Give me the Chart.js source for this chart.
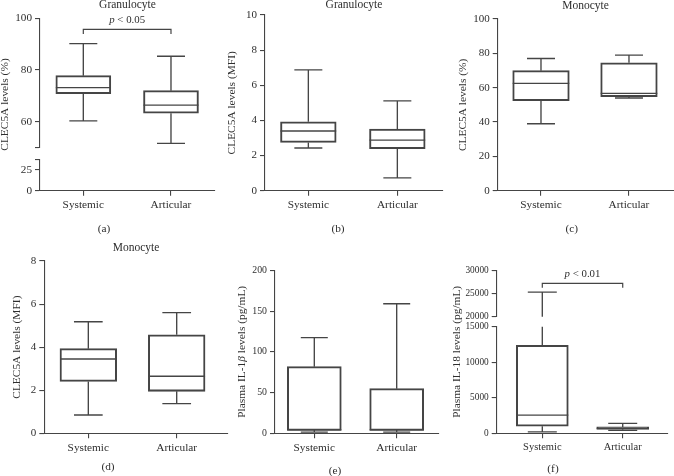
<!DOCTYPE html>
<html><head><meta charset="utf-8">
<script src="https://cdn.jsdelivr.net/npm/chart.js@4.4.1/dist/chart.umd.min.js"></script>
<style>
html,body{margin:0;padding:0;background:#fff;}
#wrap{position:relative;width:674px;height:476px;overflow:hidden;background:#fff;}
#wrap canvas{position:absolute;left:0;top:0;}
</style></head><body><div id="wrap"></div>
<script>
// ---------------- DATA ----------------
const categories = ['Systemic', 'Articular'];
// five-number summaries: [min, q1, median, q3, max]
const granPctSystemic  = [60.3, 70.8, 73.2, 77.8, 90.2];
const granPctArticular = [51.6, 63.3, 66.4, 72.0, 85.3];
const granMfiSystemic  = [2.43, 2.75, 3.40, 3.92, 6.88];
const granMfiArticular = [0.73, 2.39, 2.88, 3.51, 5.11];
const monoPctSystemic  = [39.0, 52.4, 62.5, 69.9, 77.0];
const monoPctArticular = [54.0, 54.8, 56.7, 74.5, 79.0];
const monoMfiSystemic  = [0.85, 2.41, 3.45, 3.93, 5.18];
const monoMfiArticular = [1.38, 1.95, 2.65, 4.57, 5.60];
const il1bSystemic     = [1.5, 3.5, 4.3, 81.8, 117.4];
const il1bArticular    = [1.5, 3.5, 4.3, 54.8, 159.0];
const il18Systemic     = [190, 1000, 2560, 12380, 25300];
const il18Articular    = [420, 560, 700, 900, 1400];

// tick values and labels
const ticksA_top = [50, 60, 80, 100];      const labelsA_top = ['', '60', '80', '100'];
const ticksA_bot = [0, 25, 38];            const labelsA_bot = ['0', '25', ''];
const ticksB = [0, 2, 4, 6, 8, 10];        const labelsB = ['0', '2', '4', '6', '8', '10'];
const ticksC = [0, 20, 40, 60, 80, 100];   const labelsC = ['0', '20', '40', '60', '80', '100'];
const ticksD = [0, 2, 4, 6, 8];            const labelsD = ['0', '2', '4', '6', '8'];
const ticksE = [0, 50, 100, 150, 200];     const labelsE = ['0', '50', '100', '150', '200'];
const ticksF_top = [20000, 25000, 30000];  const labelsF_top = ['20000', '25000', '30000'];
const ticksF_bot = [0, 5000, 10000, 15000];const labelsF_bot = ['0', '5000', '10000', '15000'];

// significance brackets
const sigA = {value: 95.7, text: [['p', true], [' < 0.05', false]]};
const sigF = {value: 27200, text: [['p', true], [' < 0.01', false]]};

// ---------------- STYLE / LAYOUT ----------------
const FONT = "'Liberation Serif', 'DejaVu Serif', serif";
const LINE = '#454545';
const TXT = '#2e2e2e';
const LW = 1.35;
const W = 674, H = 476;
const Y_W = 36, X_H = 25;

const panels = [
  {series: [granPctSystemic, granPctArticular], axisX: 40, right: 215, top: 18.3, axisY: 190.7,
   segments: [{min: 50, max: 100, w: 129.2, ticks: ticksA_top, labels: labelsA_top}, {gap: 11.7},
              {min: 0, max: 38, w: 31.5, ticks: ticksA_bot, labels: labelsA_bot}],
   xmin: -0.494, xmax: 1.502, barW: 55, capW: 28, yFont: 11.2, xFont: 11.3,
   title: 'Granulocyte', titleY: 5, letter: '(a)', letterX: 104, letterY: 229,
   ytitle: [['CLEC5A levels (%)', false]], ytX: 5, sig: sigA},
  {series: [granMfiSystemic, granMfiArticular], axisX: 265, right: 443, top: 15, axisY: 190.7,
   segments: [{min: 0, max: 10, ticks: ticksB, labels: labelsB}],
   xmin: -0.487, xmax: 1.513, barW: 55.7, capW: 28, yFont: 11, xFont: 11.3,
   title: 'Granulocyte', titleY: 5, letter: '(b)', letterX: 338, letterY: 229,
   ytitle: [['CLEC5A levels (MFI)', false]], ytX: 232},
  {series: [monoPctSystemic, monoPctArticular], axisX: 497.7, right: 673.5, top: 19, axisY: 190.7,
   segments: [{min: 0, max: 100, ticks: ticksC, labels: labelsC}],
   xmin: -0.492, xmax: 1.506, barW: 56.6, capW: 28, yFont: 11, xFont: 11.3,
   title: 'Monocyte', titleY: 6, letter: '(c)', letterX: 571.7, letterY: 229,
   ytitle: [['CLEC5A levels (%)', false]], ytX: 463.5},
  {series: [monoMfiSystemic, monoMfiArticular], axisX: 44.3, right: 227.7, top: 261, axisY: 433.3,
   segments: [{min: 0, max: 8, ticks: ticksD, labels: labelsD}],
   xmin: -0.498, xmax: 1.577, barW: 56.7, capW: 28.7, yFont: 11, xFont: 11.3,
   title: 'Monocyte', titleY: 247.7, letter: '(d)', letterX: 108, letterY: 467,
   ytitle: [['CLEC5A levels (MFI)', false]], ytX: 16.7},
  {series: [il1bSystemic, il1bArticular], axisX: 275, right: 438.3, top: 270.3, axisY: 433.3,
   segments: [{min: 0, max: 200, ticks: ticksE, labels: labelsE}],
   xmin: -0.477, xmax: 1.505, barW: 54, capW: 27, yFont: 9.8, xFont: 11.3,
   title: '', titleY: 0, letter: '(e)', letterX: 335, letterY: 471,
   ytitle: [['Plasma IL-1', false], ['\u03B2', true], [' levels (pg/mL)', false]], ytX: 241.7},
  {series: [il18Systemic, il18Articular], axisX: 496.7, right: 668, top: 270.3, axisY: 433.3,
   segments: [{min: 20000, max: 30000, w: 46.4, ticks: ticksF_top, labels: labelsF_top}, {gap: 10},
              {min: 0, max: 15000, w: 106.6, ticks: ticksF_bot, labels: labelsF_bot}],
   xmin: -0.567, xmax: 1.563, barW: 52, capW: 29, yFont: 9.3, xFont: 10.5,
   title: '', titleY: 0, letter: '(f)', letterX: 553, letterY: 469.3,
   ytitle: [['Plasma IL-18 levels (pg/mL)', false]], ytX: 457, sig: sigF},
];

function fontStr(size, italic) { return (italic ? 'italic ' : '') + size + 'px ' + FONT; }

function drawRich(ctx, parts, size, cx, cy) {
  let total = 0;
  const widths = parts.map(([t, it]) => { ctx.font = fontStr(size, it); const w = ctx.measureText(t).width; total += w; return w; });
  let x = cx - total / 2;
  ctx.textAlign = 'left'; ctx.textBaseline = 'middle';
  parts.forEach(([t, it], i) => { ctx.font = fontStr(size, it); ctx.fillText(t, x, cy); x += widths[i]; });
}

const wrap = document.getElementById('wrap');

function makePanel(p, idx) {
  const cv = document.createElement('canvas');
  cv.width = W; cv.height = H; cv.style.width = W + 'px'; cv.style.height = H + 'px';
  wrap.appendChild(cv);
  const stacked = p.segments.length > 1;
  const total = p.axisY - p.top;
  const scales = {
    x: {
      type: 'linear', position: 'bottom', min: p.xmin, max: p.xmax, offset: false,
      grid: {display: true, drawOnChartArea: false, drawTicks: true, tickLength: 5, color: LINE, offset: false, lineWidth: 1.1},
      border: {display: true, color: LINE, width: 1.1},
      ticks: {padding: 3, color: TXT, font: {family: FONT, size: p.xFont}, autoSkip: false, maxRotation: 0,
              callback: (v) => (categories[v] !== undefined ? categories[v] : '')},
      afterBuildTicks: (s) => { s.ticks = categories.map((c, i) => ({value: i})); },
      afterFit: (s) => { s.height = X_H; }
    }
  };
  const dataAxes = [];
  let boxAxis = null;
  const qLo = Math.min(...p.series.map(s => s[1]));
  const qHi = Math.max(...p.series.map(s => s[3]));
  p.segments.forEach((seg, k) => {
    const id = 'y' + k;
    const base = {type: 'linear', position: 'left', afterFit: (s) => { s.width = Y_W; }};
    if (stacked) { base.stack = 'brk'; base.weight = 10 - k; base.stackWeight = (seg.gap || seg.w) / total; }
    if (seg.gap) {
      scales[id] = Object.assign(base, {min: 0, max: 1, display: true, grid: {display: false}, border: {display: false}, ticks: {display: false}});
    } else {
      dataAxes.push(id);
      if (boxAxis === null && qLo >= seg.min && qHi <= seg.max) boxAxis = id;
      scales[id] = Object.assign(base, {
        min: seg.min, max: seg.max,
        grid: {display: true, drawOnChartArea: false, drawTicks: true, tickLength: 5, color: LINE, lineWidth: 1.1},
        border: {display: true, color: LINE, width: 1.1},
        ticks: {padding: 3, color: TXT, font: {family: FONT, size: p.yFont}, autoSkip: false,
                callback: (v, i) => seg.labels[i]},
        afterBuildTicks: (s) => { s.ticks = seg.ticks.map(v => ({value: v})); }
      });
    }
  });
  if (boxAxis === null) boxAxis = dataAxes[0];

  const extras = {
    id: 'extras' + idx,
    afterDatasetsDraw(chart) {
      const ctx = chart.ctx;
      const xs = chart.scales.x;
      const ys = dataAxes.map(id => chart.scales[id]);
      const pix = (v) => { for (const sc of ys) { if (v >= sc.min && v <= sc.max) return sc.getPixelForValue(v); } return null; };
      const vline = (xp, a, b) => {
        for (const sc of ys) {
          const lo = Math.max(a, sc.min), hi = Math.min(b, sc.max);
          if (lo < hi) { ctx.moveTo(xp, sc.getPixelForValue(lo)); ctx.lineTo(xp, sc.getPixelForValue(hi)); }
        }
      };
      const hline = (xp, half, v) => { const y = pix(v); if (y === null) return; ctx.moveTo(xp - half, y); ctx.lineTo(xp + half, y); };
      ctx.save();
      ctx.strokeStyle = LINE; ctx.lineWidth = LW;
      ctx.beginPath();
      p.series.forEach((s, i) => {
        const cx = xs.getPixelForValue(i);
        vline(cx, s[0], s[1]);
        vline(cx, s[3], s[4]);
        hline(cx, p.capW / 2, s[0]);
        hline(cx, p.capW / 2, s[4]);
        hline(cx, p.barW / 2, s[2]);
      });
      ctx.stroke();
      const ca = chart.chartArea;
      ctx.fillStyle = TXT;
      if (p.sig) {
        const y = ys[0].getPixelForValue(p.sig.value);
        const x0 = xs.getPixelForValue(0), x1 = xs.getPixelForValue(1);
        ctx.lineWidth = 1.2;
        ctx.beginPath();
        ctx.moveTo(x0, y + 4.5); ctx.lineTo(x0, y); ctx.lineTo(x1, y); ctx.lineTo(x1, y + 4.5);
        ctx.stroke();
        drawRich(ctx, p.sig.text, 10.8, (x0 + x1) / 2, y - 9.5);
      }
      if (p.title) drawRich(ctx, [[p.title, false]], 11.5, (ca.left + ca.right) / 2, p.titleY);
      drawRich(ctx, [[p.letter, false]], 11.3, p.letterX, p.letterY);
      ctx.save();
      ctx.translate(p.ytX, (ca.top + ca.bottom) / 2);
      ctx.rotate(-Math.PI / 2);
      drawRich(ctx, p.ytitle, 11.4, 0, 0);
      ctx.restore();
      ctx.restore();
    }
  };

  new Chart(cv, {
    type: 'bar',
    data: {
      datasets: [{
        data: p.series.map((s, i) => ({x: i, y: [s[1], s[3]]})),
        yAxisID: boxAxis, xAxisID: 'x',
        backgroundColor: 'rgba(255,255,255,0)', borderColor: LINE, borderWidth: LW,
        borderSkipped: false, barThickness: p.barW
      }]
    },
    options: {
      responsive: false, animation: false, devicePixelRatio: 1,
      layout: {padding: {left: p.axisX - Y_W, right: W - p.right, top: p.top, bottom: H - p.axisY - X_H}},
      plugins: {legend: {display: false}, tooltip: {enabled: false}, title: {display: false}},
      events: [],
      scales
    },
    plugins: [extras]
  });
}

panels.forEach(makePanel);
</script>
</body></html>
